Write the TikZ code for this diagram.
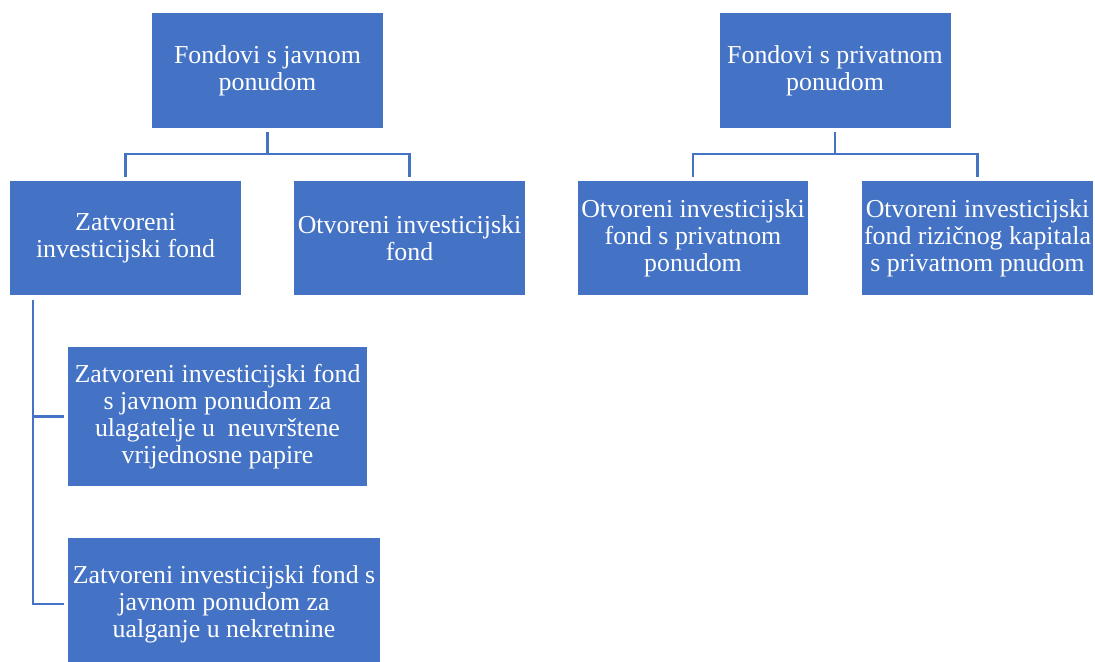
\documentclass[tikz,border=0pt]{standalone}
\usepackage{fontspec}
\setmainfont{Liberation Serif}
\definecolor{fondblue}{HTML}{4472C4}

\begin{document}
\begin{tikzpicture}[x=0.75pt, y=-0.75pt,
  fond/.style={fill=fondblue, text=white, align=center, inner sep=0,
    minimum width=173.25pt, minimum height=86pt, font=\fontsize{19.4}{20.4}\selectfont},
  link/.style={draw=fondblue, line width=1.6pt, shorten <=3pt, shorten >=2.5pt}]
  \useasboundingbox (0,0) rectangle (1095,661);
  % javna ponuda
  \node[fond] (javni) at (267.5,70.5) {Fondovi s javnom\\ponudom};
  \node[fond] (zatvoreni) at (125.5,238) {Zatvoreni\\investicijski fond};
  \node[fond] (otvoreni) at (409.5,238) {Otvoreni investicijski\\fond};
  \node[fond, minimum width=224.25pt, minimum height=104.25pt] (neuvrsteni) at (217.5,416.5)
    {Zatvoreni investicijski fond\\s javnom ponudom za\\ulagatelje u~ neuvrštene\\vrijednosne papire};
  \node[fond, minimum width=234pt, minimum height=99pt] (nekretnine) at (224,604)
    {Zatvoreni investicijski fond s\\javnom ponudom za\\ualganje u nekretnine};
  % privatna ponuda
  \node[fond] (privatni) at (835,70.5) {Fondovi s privatnom\\ponudom};
  \node[fond, minimum width=172.5pt] (otvpriv) at (693,238) {Otvoreni investicijski\\fond s privatnom\\ponudom};
  \node[fond] (rizicni) at (977.5,238) {Otvoreni investicijski\\fond rizičnog kapitala\\s privatnom pnudom};
  % veze
  \draw[link] (javni.south) -- ++(0,26) -| (zatvoreni.north);
  \draw[link] (javni.south) -- ++(0,26) -| (otvoreni.north);
  \draw[link] (privatni.south) -- ++(0,26) -| (otvpriv.north);
  \draw[link] (privatni.south) -- ++(0,26) -| (rizicni.north);
  \draw[link] ([xshift=17.25pt]zatvoreni.south west) |- (neuvrsteni.west);
  \draw[link] ([xshift=17.25pt]zatvoreni.south west) |- (nekretnine.west);
\end{tikzpicture}
\end{document}
